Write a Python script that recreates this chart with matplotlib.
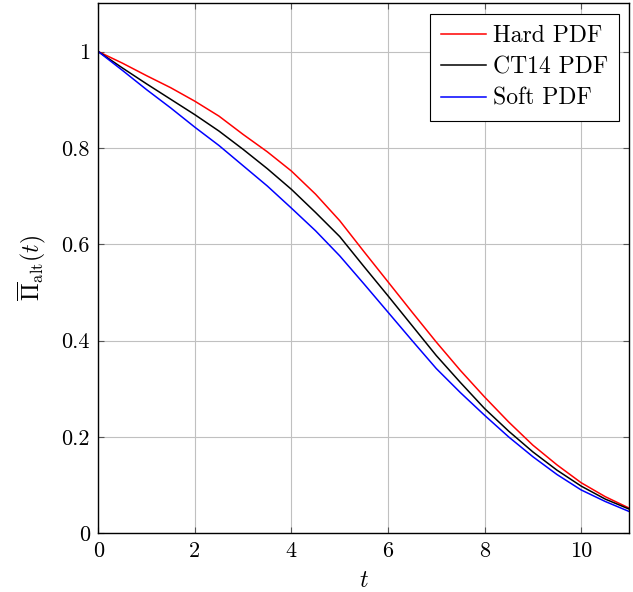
import matplotlib
matplotlib.use('Agg')
import matplotlib.pyplot as plt

plt.rcParams['font.family'] = 'serif'
plt.rcParams['font.serif'] = ['cmr10']
plt.rcParams['mathtext.fontset'] = 'cm'
plt.rcParams['axes.formatter.use_mathtext'] = True

t = [0, 0.5, 1, 1.5, 2, 2.5, 3, 3.5, 4, 4.5, 5, 5.5, 6, 6.5, 7, 7.5, 8, 8.5, 9, 9.5, 10, 10.5, 11]
hard = [1.0, 0.976, 0.950, 0.925, 0.897, 0.866, 0.828, 0.792, 0.752, 0.704, 0.649, 0.585, 0.522, 0.459,
        0.397, 0.338, 0.283, 0.231, 0.183, 0.142, 0.105, 0.076, 0.052]
ct14 = [1.0, 0.966, 0.933, 0.901, 0.869, 0.835, 0.797, 0.757, 0.714, 0.666, 0.616, 0.554, 0.493, 0.431,
        0.369, 0.313, 0.259, 0.212, 0.169, 0.131, 0.098, 0.071, 0.050]
soft = [1.0, 0.961, 0.921, 0.883, 0.843, 0.805, 0.763, 0.721, 0.675, 0.628, 0.576, 0.518, 0.459, 0.400,
        0.342, 0.292, 0.245, 0.200, 0.159, 0.122, 0.090, 0.066, 0.045]

fig = plt.figure(figsize=(6.33, 5.92), dpi=100)
ax = fig.add_axes([0.1553, 0.0992, 0.839, 0.895])

ax.plot(t, hard, color='red', lw=1.1, label='Hard PDF')
ax.plot(t, ct14, color='black', lw=1.1, label='CT14 PDF')
ax.plot(t, soft, color='blue', lw=1.1, label='Soft PDF')

ax.set_xlim(0, 11)
ax.set_ylim(0, 1.1)
ax.set_xticks([0, 2, 4, 6, 8, 10])
ax.set_xticklabels(['0', '2', '4', '6', '8', '10'])
ax.set_yticks([0, 0.2, 0.4, 0.6, 0.8, 1])
ax.set_yticklabels(['0', '0.2', '0.4', '0.6', '0.8', '1'])
ax.grid(True, color='#c0c0c0', lw=0.8)
ax.tick_params(direction='in', top=True, right=True, labelsize=16, length=4, color='#555555', pad=6)
for s in ax.spines.values():
    s.set_linewidth(1.0)

ax.set_xlabel('$t$', fontsize=17, labelpad=6)
ax.set_ylabel(r'$\overline{\Pi}_{\mathrm{alt}}(t)$', fontsize=17, labelpad=10)

leg = ax.legend(loc='upper right', fontsize=17, fancybox=False, framealpha=1,
                edgecolor='black', handlelength=1.9, handletextpad=0.3,
                labelspacing=0.4, borderaxespad=0.45, borderpad=0.45)
leg.get_frame().set_linewidth(0.8)

fig.savefig('out.png', dpi=100)
